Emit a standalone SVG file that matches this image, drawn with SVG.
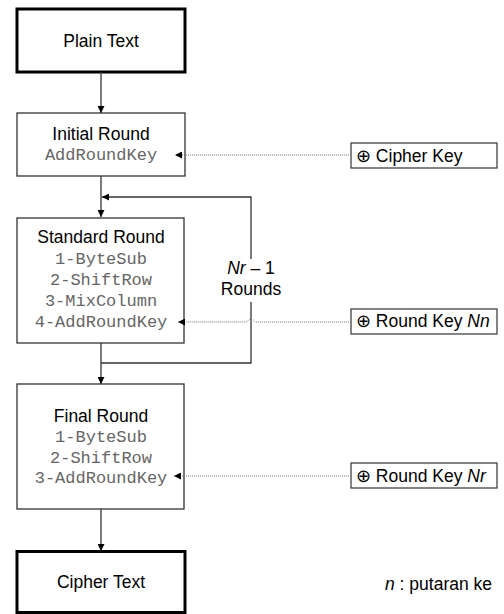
<svg xmlns="http://www.w3.org/2000/svg" width="504" height="614" viewBox="0 0 504 614">
<style>
.thick{fill:#fff;stroke:#000;stroke-width:3}
.box{fill:#fff;stroke:#333;stroke-width:1.3}
.key{fill:#fff;stroke:#333;stroke-width:1.2}
.t{font-family:"Liberation Sans",Arial,sans-serif;font-size:17.5px;fill:#000}
.m{font-family:"Liberation Mono","Courier New",monospace;font-size:17px;fill:#666}
.c{text-anchor:middle}
.ln{fill:none;stroke:#333;stroke-width:1.3}
.dot{fill:none;stroke:#777;stroke-width:1;stroke-dasharray:1 1}
</style>
<defs>
<marker id="ah" viewBox="0 0 10 10" refX="10" refY="5" markerWidth="7" markerHeight="7" markerUnits="userSpaceOnUse" orient="auto">
<path d="M0,0 L10,5 L0,10 Z" fill="#000"/>
</marker>
</defs>
<g id="plain">
<rect class="thick" x="17" y="9" width="168" height="63"/>
<text class="t c" x="101" y="47">Plain Text</text>
</g>
<g id="initial">
<rect class="box" x="17" y="113" width="168" height="63"/>
<text class="t c" x="101" y="140">Initial Round</text>
<text class="m c" x="101" y="160">AddRoundKey</text>
</g>
<g id="standard">
<rect class="box" x="17" y="218" width="167" height="125"/>
<text class="t c" x="101" y="243">Standard Round</text>
<text class="m c" x="101" y="264">1-ByteSub</text>
<text class="m c" x="101" y="285">2-ShiftRow</text>
<text class="m c" x="101" y="306">3-MixColumn</text>
<text class="m c" x="101" y="327">4-AddRoundKey</text>
</g>
<g id="rounds-label">
<text class="t c" x="251" y="274"><tspan font-style="italic">Nr</tspan> – 1</text>
<text class="t c" x="251" y="295">Rounds</text>
</g>
<g id="final">
<rect class="box" x="17" y="384" width="167" height="125"/>
<text class="t c" x="101" y="422">Final Round</text>
<text class="m c" x="101" y="442">1-ByteSub</text>
<text class="m c" x="101" y="463">2-ShiftRow</text>
<text class="m c" x="101" y="483">3-AddRoundKey</text>
</g>
<g id="cipher">
<rect class="thick" x="17" y="551.5" width="168" height="61"/>
<text class="t c" x="101" y="588">Cipher Text</text>
</g>
<g id="cipherkey">
<rect class="key" x="351" y="143" width="146" height="25"/>
<text class="t" x="356" y="162">⊕ Cipher Key</text>
</g>
<g id="roundkeyNn">
<rect class="key" x="351" y="309" width="146" height="25"/>
<text class="t" x="356" y="327">⊕ Round Key <tspan font-style="italic">Nn</tspan></text>
</g>
<g id="roundkeyNr">
<rect class="key" x="351" y="463" width="146" height="25"/>
<text class="t" x="356" y="482">⊕ Round Key <tspan font-style="italic">Nr</tspan></text>
</g>
<g id="legend">
<text class="t" x="385" y="590"><tspan font-style="italic">n</tspan> : putaran ke</text>
</g>
<g id="connectors">
<line class="ln" x1="101" y1="72" x2="101" y2="113" marker-end="url(#ah)"/>
<line class="ln" x1="101" y1="176" x2="101" y2="217" marker-end="url(#ah)"/>
<polyline class="ln" points="251,259 251,197 102,197" marker-end="url(#ah)"/>
<polyline class="ln" points="251,302 251,363 101,363"/>
<line class="ln" x1="101" y1="343" x2="101" y2="384" marker-end="url(#ah)"/>
<line class="ln" x1="101" y1="509" x2="101" y2="551" marker-end="url(#ah)"/>
<line class="dot" x1="351" y1="155" x2="175" y2="155" marker-end="url(#ah)"/>
<path class="dot" d="M351,322 H255 Q251,316 247,322 H178" marker-end="url(#ah)"/>
<line class="dot" x1="351" y1="476" x2="174" y2="476" marker-end="url(#ah)"/>
</g>
</svg>
